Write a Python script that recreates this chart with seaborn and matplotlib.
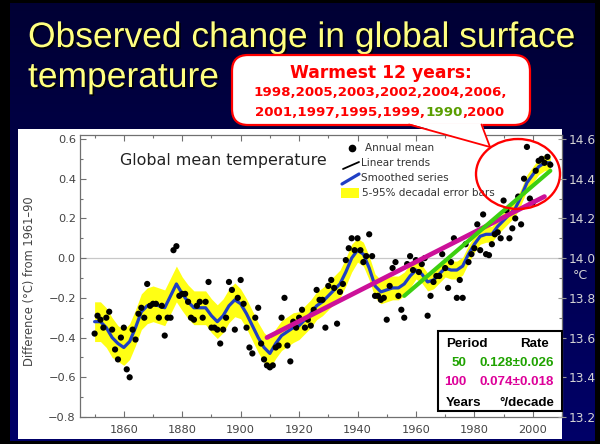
import numpy as np
import pandas as pd
import seaborn as sns
import matplotlib
matplotlib.use("Agg")
import matplotlib.pyplot as plt
from matplotlib.patches import Rectangle, FancyBboxPatch, Ellipse, Polygon
from matplotlib.colors import LinearSegmentedColormap
from matplotlib.ticker import MultipleLocator
import matplotlib.patheffects as pe

# ---------------- data ----------------
years = list(range(1850, 2007))
annual_mean = [
    -0.38, -0.29, -0.31, -0.35, -0.30, -0.27, -0.36, -0.46, -0.51, -0.40,
    -0.35, -0.56, -0.60, -0.36, -0.41, -0.28, -0.25, -0.30, -0.13, -0.24,
    -0.23, -0.23, -0.30, -0.24, -0.39, -0.30, -0.30, 0.04, 0.06, -0.19,
    -0.18, -0.18, -0.22, -0.30, -0.31, -0.24, -0.22, -0.30, -0.22, -0.12,
    -0.35, -0.35, -0.36, -0.43, -0.36, -0.30, -0.12, -0.16, -0.36, -0.20,
    -0.11, -0.23, -0.35, -0.45, -0.48, -0.30, -0.25, -0.43, -0.51, -0.54,
    -0.55, -0.54, -0.45, -0.44, -0.30, -0.20, -0.44, -0.52, -0.32, -0.35,
    -0.30, -0.26, -0.35, -0.31, -0.34, -0.26, -0.16, -0.21, -0.21, -0.35,
    -0.14, -0.11, -0.15, -0.33, -0.17, -0.13, -0.01, 0.05, 0.10, 0.04,
    0.10, 0.04, -0.02, 0.01, 0.12, 0.01, -0.19, -0.19, -0.21, -0.20,
    -0.31, -0.14, -0.05, -0.02, -0.19, -0.26, -0.30, -0.03, 0.01, -0.06,
    -0.01, -0.07, -0.03, 0.00, -0.29, -0.19, -0.12, -0.09, -0.09, 0.02,
    -0.05, -0.15, -0.02, 0.10, -0.20, -0.11, -0.20, 0.07, -0.02, 0.02,
    0.05, 0.17, 0.04, 0.22, 0.02, 0.015, 0.07, 0.12, 0.13, 0.10,
    0.29, 0.24, 0.10, 0.15, 0.20, 0.31, 0.17, 0.40, 0.56, 0.30,
    0.28, 0.44, 0.49, 0.50, 0.48, 0.51, 0.47,
]

smooth_years = list(range(1850, 2007, 2))
smooth_mean = [
    -0.32, -0.32, -0.35, -0.40, -0.43, -0.45, -0.42, -0.35, -0.27, -0.24,
    -0.23, -0.24, -0.25, -0.19, -0.13, -0.18, -0.22, -0.25, -0.25, -0.25,
    -0.29, -0.32, -0.29, -0.24, -0.21, -0.23, -0.28, -0.34, -0.40, -0.45,
    -0.48, -0.43, -0.39, -0.37, -0.35, -0.34, -0.31, -0.28, -0.24, -0.22,
    -0.19, -0.16, -0.13, -0.07, 0.00, 0.04, 0.02, -0.05, -0.14, -0.17,
    -0.16, -0.15, -0.15, -0.13, -0.09, -0.06, -0.08, -0.12, -0.11, -0.08,
    -0.05, -0.06, -0.06, -0.04, 0.02, 0.07, 0.11, 0.12, 0.12, 0.16,
    0.19, 0.22, 0.25, 0.31, 0.38, 0.42, 0.46, 0.48, 0.48,
]
band_halfwidth = [
    0.10, 0.10, 0.10, 0.10, 0.09,
    0.09, 0.09, 0.09, 0.09, 0.09, 0.09, 0.09, 0.09, 0.09, 0.09,
    0.085, 0.085, 0.085, 0.085, 0.085, 0.085, 0.085, 0.085, 0.085, 0.085,
    0.075, 0.075, 0.075, 0.075, 0.075, 0.075, 0.075, 0.075, 0.075, 0.075,
    0.07, 0.07, 0.07, 0.07, 0.07, 0.07, 0.07, 0.07, 0.07, 0.07,
    0.06, 0.06, 0.06, 0.06, 0.06, 0.06, 0.06, 0.06, 0.06, 0.06,
    0.045, 0.045, 0.045, 0.045, 0.045, 0.045, 0.045, 0.045, 0.045, 0.045,
    0.04, 0.04, 0.04, 0.04, 0.04, 0.04, 0.04, 0.04, 0.04, 0.04, 0.04, 0.04, 0.04, 0.04,
]

trend100_years = [1909, 2004]
trend100_values = [-0.40, 0.31]
trend50_years = [1956, 2006]
trend50_values = [-0.19, 0.44]

x_ticks = [1860, 1880, 1900, 1920, 1940, 1960, 1980, 2000]
y_ticks_left = [-0.8, -0.6, -0.4, -0.2, 0.0, 0.2, 0.4, 0.6]
y_ticks_right = [13.2, 13.4, 13.6, 13.8, 14.0, 14.2, 14.4, 14.6]

title_lines = ["Observed change in global surface", "temperature"]
chart_title = "Global mean temperature"
y_label = "Difference (°C) from 1961–90"
legend_labels = ["Annual mean", "Linear trends", "Smoothed series", "5-95% decadal error bars"]
callout_head = "Warmest 12 years:"
callout_line2 = "1998,2005,2003,2002,2004,2006,"
callout_line3 = [("2001,1997,1995,1999,", "red"), ("1990", "green"), (",2000", "red")]
rate_header = ["Period", "Rate"]
rate_rows = [("50", "0.128±0.026", "green"), ("100", "0.074±0.018", "magenta")]
rate_footer = ["Years", "°/decade"]

# ---------------- styling ----------------
sns.set_theme(style="white")
plt.rcParams['font.family'] = ['DejaVu Sans']

W, H = 600, 444
YELLOW_T = '#ffff80'
RED = '#ff0000'
GREEN_TXT = '#1fa300'
MAG_TXT = '#dd0099'
BLUE = '#1f3fc4'
MAG = '#cc1199'
GREEN = '#3ccf10'
BAND = '#ffff14'

fig = plt.figure(figsize=(W / 100, H / 100), dpi=100)
fig.patch.set_facecolor('black')

# slide background gradient
bg = fig.add_axes([10 / W, 1 - 441 / H, 584 / W, 438 / H], zorder=-3)
cmap = LinearSegmentedColormap.from_list('navy', ['#000034', '#00004e', '#000068'])
bg.imshow(np.linspace(0, 1, 256).reshape(-1, 1), aspect='auto', cmap=cmap,
          extent=[0, 1, 0, 1])
bg.axis('off')

# white panel
panel = fig.add_axes([18 / W, 1 - 439 / H, (562 - 18) / W, (439 - 129) / H], zorder=-2)
panel.set_facecolor('white')
panel.set_xticks([]); panel.set_yticks([])
for s in panel.spines.values():
    s.set_visible(False)

# main axes
ax = fig.add_axes([80 / W, 1 - 417 / H, 482 / W, 282 / H], zorder=1)
ax.set_facecolor('white')
ax.set_xlim(1845, 2010)
ax.set_ylim(-0.8, 0.62)
ax.axhline(0, color='#c8c8c8', lw=0.9, zorder=0.5)

lower = [m - h for m, h in zip(smooth_mean, band_halfwidth)]
upper = [m + h for m, h in zip(smooth_mean, band_halfwidth)]
ax.fill_between(smooth_years, lower, upper, color=BAND, lw=0, zorder=1)

sm_df = pd.DataFrame({'year': smooth_years, 'value': smooth_mean})
sns.lineplot(data=sm_df, x='year', y='value', ax=ax, color=BLUE, lw=2.3, zorder=2)

an_df = pd.DataFrame({'year': years, 'value': annual_mean})
sns.scatterplot(data=an_df, x='year', y='value', ax=ax, color='black', s=20,
                edgecolor='none', zorder=3)

sns.lineplot(x=trend100_years, y=trend100_values, ax=ax, color=MAG, lw=3.4, zorder=4)
sns.lineplot(x=trend50_years, y=trend50_values, ax=ax, color=GREEN, lw=3.0, zorder=4)

ax.set_xlabel('')
ax.set_ylabel(y_label, fontsize=8.3, color='#444444')
ax.yaxis.set_label_coords(-0.092, 0.48)
ax.set_xticks(x_ticks)
ax.set_yticks(y_ticks_left)
ax.set_yticklabels([f"{v:.1f}".replace('-', '\u2212') for v in y_ticks_left])
ax.xaxis.set_minor_locator(MultipleLocator(10))
ax.yaxis.set_minor_locator(MultipleLocator(0.1))
ax.tick_params(axis='both', which='major', direction='in', length=4, width=0.8,
               color='#707070', labelsize=8.2, labelcolor='#444444', pad=3)
ax.tick_params(axis='x', which='major', pad=6)
ax.tick_params(axis='both', which='minor', direction='in', length=2.5, width=0.8,
               color='#707070')
ax.tick_params(axis='x', which='both', top=True, bottom=True)
ax.tick_params(axis='y', which='both', left=True, right=False)
for s in ax.spines.values():
    s.set_color('#707070')
    s.set_linewidth(0.9)

ax2 = ax.twinx()
ax2.set_ylim(13.2, 14.62)
ax2.set_yticks(y_ticks_right)
ax2.set_yticklabels([f"{v:.1f}" for v in y_ticks_right])
ax2.yaxis.set_minor_locator(MultipleLocator(0.1))
ax2.tick_params(axis='y', which='major', direction='inout', length=6, width=0.8,
                color='#9a9a9a', labelsize=8.8, labelcolor='#d4d4d4', pad=2)
ax2.tick_params(axis='y', which='minor', direction='in', length=2.5, width=0.8,
                color='#707070')
ax2.grid(False)
ax.grid(False)
for s in ax2.spines.values():
    s.set_visible(False)

# ---------------- overlay (pixel coordinates) ----------------
ov = fig.add_axes([0, 0, 1, 1], zorder=5)
ov.set_xlim(0, W)
ov.set_ylim(H, 0)
ov.axis('off')
ov.patch.set_alpha(0)

shadow = [pe.withSimplePatchShadow(offset=(1.2, -1.2), shadow_rgbFace='black', alpha=0.85)]
ov.text(28, 47, title_lines[0], fontsize=25.5, color=YELLOW_T, va='baseline',
        family=['Liberation Sans', 'DejaVu Sans'], path_effects=shadow)
ov.text(28, 87, title_lines[1], fontsize=25.5, color=YELLOW_T, va='baseline',
        family=['Liberation Sans', 'DejaVu Sans'], path_effects=shadow)

ov.text(580, 275, '°C', fontsize=9, color='#d4d4d4', ha='center', va='center')

# inner chart title and legend
ov.text(120, 160, chart_title, fontsize=11.4, color='#222222', va='center', ha='left')
ov.plot([352], [148], 'o', color='black', ms=4.5)
ov.plot([343, 359], [169, 162], color='black', lw=1.3)
ov.plot([342, 359], [184, 174], color=BLUE, lw=2.3)
ov.add_patch(Rectangle((341, 188), 18, 10, facecolor=BAND, edgecolor='none'))
leg_y = [148, 163, 178, 193]
leg_x = [365, 361, 361, 362]
for lx, ly, lab in zip(leg_x, leg_y, legend_labels):
    ov.text(lx, ly, lab, fontsize=7.5, color='#333333', va='center', ha='left')

# rate box
ov.add_patch(Rectangle((438, 331), 124, 80, facecolor='white', edgecolor='black',
                       lw=1.5, zorder=6))
bf = dict(fontsize=9.6, fontweight='bold', family=['Liberation Sans', 'DejaVu Sans'],
          va='center', zorder=7)
ov.text(446, 344, rate_header[0], ha='left', color='black', **bf)
ov.text(549, 344, rate_header[1], ha='right', color='black', **bf)
row_y = [363, 382]
for (per, rate, col), ry in zip(rate_rows, row_y):
    c = GREEN_TXT if col == 'green' else MAG_TXT
    ov.text(466, ry, per, ha='right', color=c, **bf)
    ov.text(554, ry, rate, ha='right', color=c, **bf)
ov.text(446, 403, rate_footer[0], ha='left', color='black', **bf)
ov.text(554, 403, rate_footer[1], ha='right', color='black', **bf)

# callout bubble
ov.add_patch(FancyBboxPatch((232, 55), 298, 70,
                            boxstyle="round,pad=0,rounding_size=16",
                            facecolor='white', edgecolor=RED, lw=1.6, zorder=6))
ov.add_patch(Polygon([(408, 123.2), (482, 123.2), (490, 147)], closed=True,
                     facecolor='white', edgecolor='none', zorder=6.5))
ov.plot([409, 490], [124.5, 147], color=RED, lw=1.3, zorder=7)
ov.plot([481.5, 490], [124.5, 147], color=RED, lw=1.3, zorder=7)
ov.add_patch(Ellipse((518, 174), 84, 70, fill=False, edgecolor=RED, lw=1.7, zorder=7))

cf = dict(fontweight='bold', va='center', zorder=8)
ov.text(381, 73, callout_head, fontsize=12.3, color=RED, ha='center', **cf)
ov.text(380, 93, callout_line2, fontsize=9.6, color=RED, ha='center', **cf)

# third line: coloured pieces placed by measured advance differences
renderer = fig.canvas.get_renderer()


def text_width(s):
    t = ov.text(0, 0, s, fontsize=9.6, fontweight='bold')
    w = t.get_window_extent(renderer).width
    t.remove()
    return w


full = "".join(p for p, _ in callout_line3)
total_w = text_width(full)
left = 380 - total_w / 2
prefix = ""
for txt, col in callout_line3:
    if prefix:
        off = text_width(prefix + txt) - text_width(txt)
    else:
        off = 0.0
    c = RED if col == 'red' else '#5a9e00'
    ov.text(left + off, 112, txt, fontsize=9.6, color=c, ha='left', **cf)
    prefix += txt

fig.savefig('out.png', dpi=100, facecolor=fig.get_facecolor())
